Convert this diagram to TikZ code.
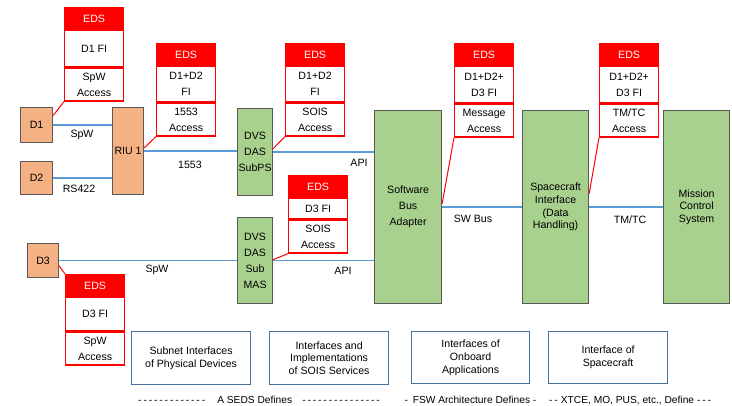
\documentclass[tikz,border=0pt]{standalone}
\usepackage{fontspec}
\setmainfont{Liberation Sans}
\usetikzlibrary{positioning}
\definecolor{devorange}{HTML}{F4B183}
\definecolor{swgreen}{HTML}{A9D18E}
\definecolor{edsred}{HTML}{FF0000}
\definecolor{linkblue}{HTML}{5B9BD5}
\definecolor{framegrey}{HTML}{595959}
\definecolor{noteblue}{HTML}{41719C}
\newcommand\dashrun[1]{\foreach \k in {1,...,#1}{-\kern1.9pt}}
\tikzset{
  wh/.style 2 args={minimum width=#1pt, minimum height=#2pt},
  device/.style={draw=framegrey, fill=devorange, line width=1.2pt, inner sep=0pt, anchor=north west,
    align=center, font=\fontsize{10.6}{16}\selectfont},
  layer/.style={device, fill=swgreen},
  tall/.style={font=\fontsize{10.6}{12.7}\selectfont},
  edshead/.style={draw=edsred, fill=edsred, line width=1.2pt, text=white, inner sep=0pt, anchor=north west,
    minimum width=59pt, minimum height=22pt, font=\fontsize{10.6}{16}\selectfont},
  edspart/.style={draw=edsred, fill=white, line width=1.2pt, inner sep=0pt, minimum width=59pt,
    align=center, font=\fontsize{10.6}{16}\selectfont},
  link/.style={draw=linkblue, line width=1.2pt},
  tie/.style={draw=edsred, line width=1pt},
  note/.style={draw=noteblue, line width=1.2pt, inner sep=0pt, anchor=north west, align=center,
    font=\fontsize{10.6}{12.7}\selectfont},
  lbl/.style={font=\fontsize{10.6}{13}\selectfont, inner sep=0pt}
}
\begin{document}
\begin{tikzpicture}[x=1pt, y=-1pt]
\useasboundingbox (0,0) rectangle (732,406);

\node[device, wh={32}{35}] (d1) at (20,107) {D1};
\node[device, wh={32}{33}] (d2) at (20,161) {D2};
\node[device, wh={31}{87}] (riu) at (112,107) {RIU 1};
\node[device, wh={31}{34}] (d3) at (27,243) {D3};
\node[layer, wh={35}{87}] (dvsA) at (237,108) {DVS\\DAS\\SubPS};
\node[layer, wh={35}{86}] (dvsB) at (237,217) {DVS\\DAS\\Sub\\MAS};
\node[layer, wh={67}{193}] (sba) at (374,110) {Software\\Bus\\Adapter};
\node[layer, tall, wh={66}{193}] (spc) at (522,110) {Spacecraft\\Interface\\(Data\\Handling)};
\node[layer, tall, wh={66}{193}] (mcs) at (663,110) {Mission\\Control\\System};

\draw[link] (d1.east) -- (d1.east -| riu.west);
\draw[link] (d2.east) -- (d2.east -| riu.west);
\draw[link] (riu.east) -- (riu.east -| dvsA.west);
\draw[link] (d3.east) -- (d3.east -| dvsB.west);
\draw[link] (dvsA.east) -- (dvsA.east -| sba.west);
\draw[link] (dvsB.east) -- (dvsB.east -| sba.west);
\draw[link] (sba.east) -- (sba.east -| spc.west);
\draw[link] (spc.east) -- (spc.east -| mcs.west);

\node[lbl] (spwA) at (82,135) {SpW};
\node[lbl] (rs) at (79,189) {RS422};
\node[lbl] (milbus) at (190,165) {1553};
\node[lbl] (apiA) at (359,163) {API};
\node[lbl] (spwB) at (157,270) {SpW};
\node[lbl] (apiB) at (343,271) {API};
\node[lbl] (swbus) at (473,219) {SW Bus};
\node[lbl] (tmtc) at (630,220) {TM/TC};

\foreach \nm/\x/\y/\fitext/\acctext/\fih in {
  eA/64/7/{D1 FI}/{SpW\\Access}/36,
  eB/156/43/{D1+D2\\FI}/{1553\\Access}/35,
  eC/285/43/{D1+D2\\FI}/{SOIS\\Access}/35,
  eD/288/175/{D3 FI}/{SOIS\\Access}/20,
  eE/454/43/{D1+D2+\\D3 FI}/{Message\\Access}/36,
  eF/599/43/{D1+D2+\\D3 FI}/{TM/TC\\Access}/36,
  eG/65/274/{D3 FI}/{SpW\\Access}/33} {
  \node[edshead] (\nm-h) at (\x,\y) {EDS};
  \node[edspart, minimum height=\fih pt, below=0pt of \nm-h] (\nm-f) {\fitext};
  \node[edspart, minimum height=33pt, below=0pt of \nm-f] (\nm-a) {\acctext};
}

\draw[tie] (eA-a.south west) -- (d1.30);
\draw[tie] (eB-a.south west) -- (riu.11);
\draw[tie] (eC-a.south west) -- (dvsA.11);
\draw[tie] (eD-a.south west) -- (dvsB.3);
\draw[tie] (eE-a.south west) -- (sba.6);
\draw[tie] (eF-a.south west) -- (spc.22);
\draw[tie] (eG-h.north west) -- (d3.-18);

\node[note, wh={119}{53}] (nA) at (131,331) {Subnet Interfaces\\of Physical Devices};
\node[note, wh={119}{53}] (nB) at (269,331) {Interfaces and\\Implementations\\of SOIS Services};
\node[note, wh={118}{52}] (nC) at (411,331) {Interfaces of\\Onboard\\Applications};
\node[note, wh={119}{52}] (nD) at (548,331) {Interface of\\Spacecraft};

\node[lbl, font=\fontsize{10.2}{13}\selectfont] (seds) at (260,400) {\dashrun{13}\quad A SEDS Defines\quad\dashrun{15}};
\node[lbl, font=\fontsize{10.2}{13}\selectfont] (fsw) at (470.5,400) {-\kern1.9pt\ FSW Architecture Defines\ -};
\node[lbl, font=\fontsize{10.2}{13}\selectfont, anchor=west] (xtce) at (549,400) {-\kern1.9pt-\kern3pt XTCE, MO, PUS, etc., Define\kern3pt-\kern1.9pt-\kern1.9pt-};
\end{tikzpicture}
\end{document}
